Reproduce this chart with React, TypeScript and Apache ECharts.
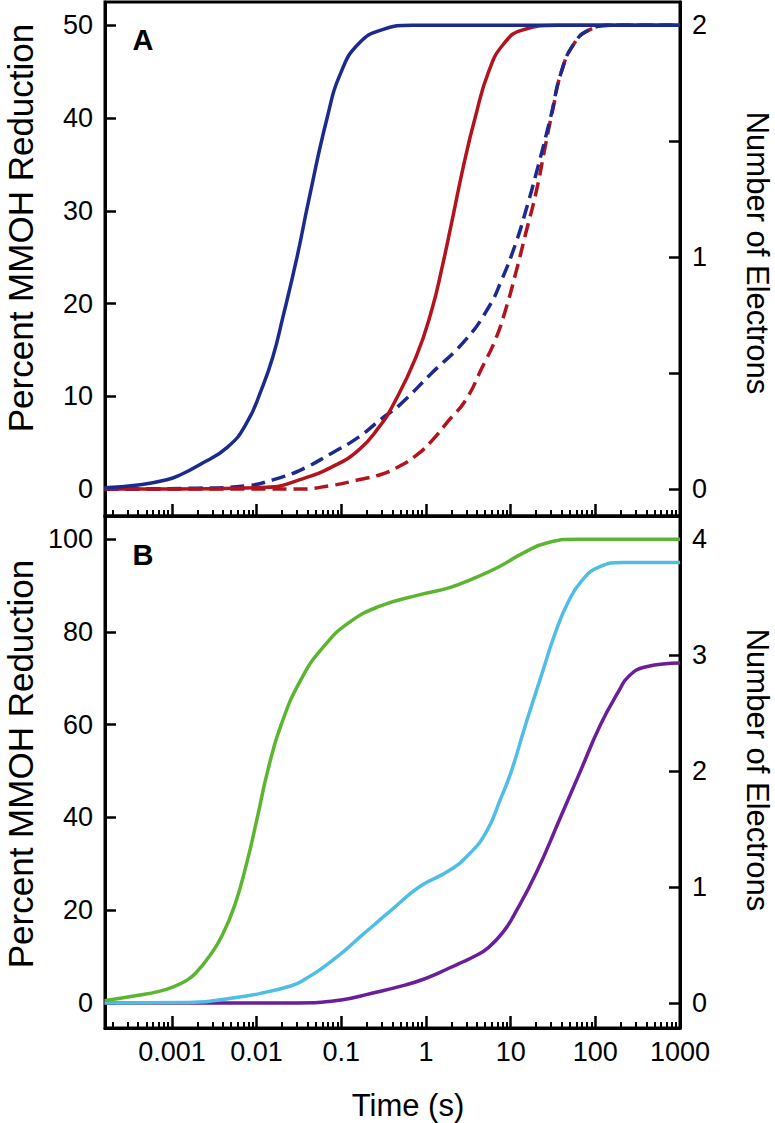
import React, { useEffect, useRef } from "react";
import * as echarts from "echarts";

const FONT = '"Liberation Sans", Arial, Helvetica, sans-serif';

// ---------- x axis (time, s; log scale) ----------
const timeMin = 0.000162;
const timeMax = 1000;
const majorTimes = [0.001, 0.01, 0.1, 1, 10, 100, 1000];
const majorLabels = ["0.001", "0.01", "0.1", "1", "10", "100", "1000"];
const decades = [0.0001, 0.001, 0.01, 0.1, 1, 10, 100];
const minorFactors = [2, 3, 4, 5, 6, 7, 8, 9];

// ---------- Panel A (percent MMOH reduction, 0-50) ----------
const aBlueSolidT = [0.00016, 0.0004, 0.00087, 0.0013, 0.0021, 0.0045, 0.0076, 0.0117, 0.0155, 0.0204, 0.03, 0.041, 0.068, 0.1, 0.16, 0.3, 0.7, 1000];
const aBlueSolidV = [0.15, 0.45, 1.0, 1.6, 2.6, 4.5, 7.1, 11, 14.2, 18.5, 25, 31, 40, 45, 48, 49.5, 50, 50];

const aRedSolidT = [0.00016, 0.001, 0.0132, 0.032, 0.078, 0.16, 0.28, 0.4, 0.76, 1.17, 1.55, 2.04, 2.8, 3.8, 5.5, 8.3, 14, 36, 1000];
const aRedSolidV = [0, 0, 0.2, 1.0, 2.4, 4.2, 6.7, 8.9, 14.2, 19.3, 23.9, 29, 35, 40, 45, 48, 49.5, 50, 50];

const aBlueDashT = [0.00016, 0.002, 0.0083, 0.0155, 0.032, 0.078, 0.16, 0.3, 0.48, 1.17, 2.95, 5.5, 7.8, 11.5, 15.1, 20, 29.5, 39.8, 56, 85, 158, 1000];
const aBlueDashV = [0, 0.1, 0.4, 1.0, 2.0, 3.9, 5.6, 7.6, 9.0, 12.5, 16.1, 19.6, 22.5, 26.5, 30, 34, 40, 45, 48, 49.5, 50, 50];

const aRedDashT = [0.00016, 0.03, 0.078, 0.16, 0.3, 0.45, 0.76, 1.17, 1.86, 2.95, 4.6, 6.6, 8.7, 11.5, 15.1, 20, 25.7, 31.6, 39.8, 56, 85, 158, 1000];
const aRedDashV = [0, 0, 0.4, 1.0, 1.6, 2.3, 3.6, 5.2, 7.4, 9.6, 13.1, 16.1, 19.3, 23.3, 27.6, 32, 37, 41, 45, 48, 49.5, 50, 50];

// ---------- Panel B (percent MMOH reduction, 0-100) ----------
const bGreenT = [0.00016, 0.00042, 0.0007, 0.00102, 0.0015, 0.0019, 0.0028, 0.0039, 0.0055, 0.0076, 0.0102, 0.0135, 0.0195, 0.034, 0.063, 0.123, 0.28, 0.83, 1.86, 3.6, 7.2, 14, 28, 63, 1000];
const bGreenV = [0.5, 1.7, 2.5, 3.4, 4.9, 6.4, 10.2, 14.5, 21, 30, 40, 50, 60, 70, 77, 82, 85.5, 88, 89.5, 91.5, 94, 97, 99.3, 100, 100];

const bCyanT = [0.00016, 0.0016, 0.0063, 0.012, 0.0245, 0.035, 0.083, 0.186, 0.39, 0.83, 1.86, 3.2, 5.2, 7.6, 10.2, 15, 22.5, 34, 48, 69, 110, 215, 1000];
const bCyanV = [0, 0.1, 1.3, 2.2, 3.6, 4.8, 9.5, 15, 20, 25, 28.5, 32, 37, 44, 50, 60, 70, 80, 86.5, 91, 94, 95, 95];

const bPurpleT = [0.00016, 0.03, 0.095, 0.23, 0.58, 0.9, 1.42, 2.45, 3.7, 5.5, 8.3, 11, 20, 38.7, 66.7, 115, 186, 250, 400, 1000];
const bPurpleV = [0, 0, 0.6, 2.1, 3.9, 5, 6.5, 8.5, 10, 12, 15.5, 19, 28, 40, 50, 60, 67, 70.5, 72.5, 73.3];

// ---------- y axes ----------
const aLeftTicks = [0, 10, 20, 30, 40, 50];
const aRightTicks = [0, 0.5, 1, 1.5, 2];
const aRightLabels = [0, 1, 2];
const bLeftTicks = [0, 20, 40, 60, 80, 100];
const bRightTicks = [0, 1, 2, 3, 4];

const BLUE = "#1b2a8f";
const RED = "#b3131d";
const GREEN = "#5cb531";
const CYAN = "#4fbde4";
const PURPLE = "#6a1e97";

const lg = (t: number) => Math.log10(t);
const pts = (ts: number[], vs: number[]) => ts.map((t, i) => [lg(t), vs[i]]);

export default function App() {
  const ref = useRef<HTMLDivElement>(null);
  useEffect(() => {
    if (!ref.current) return;
    const chart = echarts.init(ref.current, undefined, { renderer: "svg" });

    const xMin = lg(timeMin);
    const xMax = lg(timeMax);
    const majorLog = majorTimes.map(lg);
    const minorLog: number[] = [];
    decades.forEach((d) =>
      minorFactors.forEach((k) => {
        const v = lg(k * d);
        if (v >= xMin && v <= xMax) minorLog.push(v);
      })
    );
    const fmtX = (v: number) => {
      const i = majorLog.findIndex((m) => Math.abs(m - v) < 1e-6);
      return i >= 0 ? majorLabels[i] : "";
    };

    const axisLine = { show: true, onZero: false, lineStyle: { color: "#000", width: 3 } };
    const labelStyle = { color: "#000", fontSize: 27, fontFamily: FONT };

    const xMajorAxis = (gridIndex: number, showLabel: boolean) => ({
      type: "value",
      gridIndex,
      position: "bottom",
      min: xMin,
      max: xMax,
      axisLine,
      axisTick: { show: true, inside: true, length: 12, lineStyle: { color: "#000", width: 2.5 }, customValues: majorLog },
      axisLabel: showLabel
        ? { show: true, ...labelStyle, margin: 10, customValues: majorLog, formatter: fmtX }
        : { show: false },
      splitLine: { show: false },
    });
    const xMinorAxis = (gridIndex: number) => ({
      type: "value",
      gridIndex,
      position: "bottom",
      min: xMin,
      max: xMax,
      axisLine: { show: false, onZero: false },
      axisTick: { show: true, inside: true, length: 6, lineStyle: { color: "#000", width: 2 }, customValues: minorLog },
      axisLabel: { show: false },
      splitLine: { show: false },
    });

    const yAxis = (
      gridIndex: number,
      position: string,
      min: number,
      max: number,
      ticks: number[],
      labels: number[]
    ) => ({
      type: "value",
      gridIndex,
      position,
      min,
      max,
      axisLine,
      axisTick: { show: true, inside: true, length: 11, lineStyle: { color: "#000", width: 2.5 }, customValues: ticks },
      axisLabel: { show: true, ...labelStyle, margin: 12, customValues: labels, formatter: (v: number) => String(Math.round(v)) },
      splitLine: { show: false },
    });

    const line = (
      xAxisIndex: number,
      yAxisIndex: number,
      ts: number[],
      vs: number[],
      color: string,
      dashed: boolean
    ) => ({
      type: "line",
      xAxisIndex,
      yAxisIndex,
      data: pts(ts, vs),
      showSymbol: false,
      symbol: "none",
      smooth: 0.5,
      silent: true,
      lineStyle: { color, width: 3.5, type: dashed ? [14, 7] : "solid", cap: "butt" },
    });

    const titleText = (text: string, x: number, y: number, rotation: number, size: number, weight = "normal") => ({
      type: "text",
      x,
      y,
      rotation,
      silent: true,
      style: {
        text,
        fill: "#000",
        fontSize: size,
        fontFamily: FONT,
        fontWeight: weight,
        align: "center",
        verticalAlign: "middle",
      },
    });

    chart.setOption({
      animation: false,
      backgroundColor: "#fff",
      grid: [
        { left: 105, top: 2, width: 575, height: 514, show: true, borderColor: "#000", borderWidth: 3, backgroundColor: "transparent", outerBoundsMode: "none", containLabel: false },
        { left: 105, top: 516, width: 575, height: 512, show: true, borderColor: "#000", borderWidth: 3, backgroundColor: "transparent", outerBoundsMode: "none", containLabel: false },
      ],
      xAxis: [xMajorAxis(0, false), xMinorAxis(0), xMajorAxis(1, true), xMinorAxis(1)],
      yAxis: [
        yAxis(0, "left", -2.9, 52.5, aLeftTicks, aLeftTicks),
        yAxis(0, "right", -2.9 / 25, 52.5 / 25, aRightTicks, aRightLabels),
        yAxis(1, "left", -5.4, 105, bLeftTicks, bLeftTicks),
        yAxis(1, "right", -5.4 / 25, 105 / 25, bRightTicks, bRightTicks),
      ],
      series: [
        line(0, 0, aRedDashT, aRedDashV, RED, true),
        line(0, 0, aBlueDashT, aBlueDashV, BLUE, true),
        line(0, 0, aRedSolidT, aRedSolidV, RED, false),
        line(0, 0, aBlueSolidT, aBlueSolidV, BLUE, false),
        line(2, 2, bPurpleT, bPurpleV, PURPLE, false),
        line(2, 2, bCyanT, bCyanV, CYAN, false),
        line(2, 2, bGreenT, bGreenV, GREEN, false),
      ],
      graphic: [
        titleText("Percent MMOH Reduction", 20, 228, Math.PI / 2, 35),
        titleText("Percent MMOH Reduction", 20, 764, Math.PI / 2, 35),
        titleText("Number of Electrons", 757, 253, -Math.PI / 2, 31),
        titleText("Number of Electrons", 757, 770, -Math.PI / 2, 31),
        titleText("Time (s)", 408, 1105, 0, 31),
        titleText("A", 143, 40, 0, 29, "bold"),
        titleText("B", 143, 555, 0, 29, "bold"),
      ],
    });

    return () => chart.dispose();
  }, []);

  return (
    <div
      ref={ref}
      style={{ position: "absolute", left: 0, top: 0, width: 775, height: 1123, background: "#fff" }}
    />
  );
}
